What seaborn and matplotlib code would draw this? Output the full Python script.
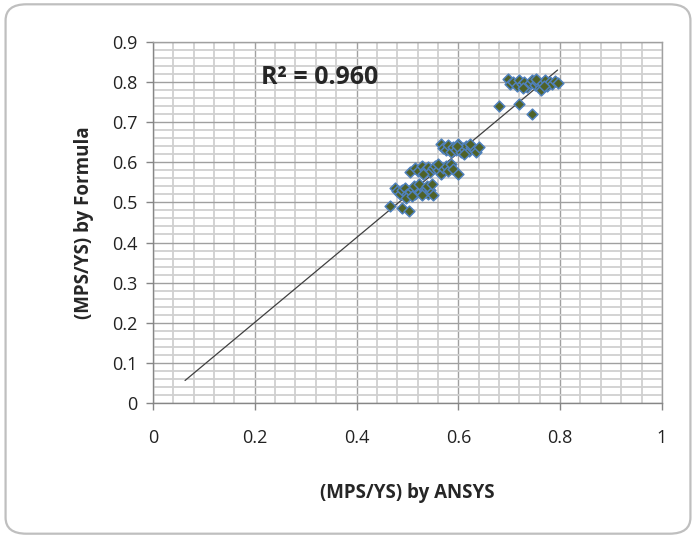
import numpy as np
import pandas as pd
import seaborn as sns
import matplotlib.pyplot as plt
from matplotlib.patches import FancyBboxPatch
from matplotlib.ticker import MultipleLocator

# data
ansys = [0.465, 0.490, 0.503,
         0.475, 0.480, 0.485, 0.490, 0.495, 0.500, 0.505, 0.510, 0.515, 0.520, 0.525,
         0.530, 0.535, 0.540, 0.545, 0.550, 0.512, 0.522, 0.498, 0.508, 0.528, 0.538, 0.548,
         0.505, 0.515, 0.520, 0.528, 0.535, 0.540, 0.545, 0.550, 0.555, 0.560, 0.565,
         0.570, 0.575, 0.580, 0.585, 0.590, 0.600, 0.530, 0.560,
         0.565, 0.570, 0.575, 0.580, 0.585, 0.590, 0.595, 0.600, 0.605, 0.610, 0.615,
         0.620, 0.625, 0.630, 0.635, 0.640, 0.612, 0.598, 0.622,
         0.680, 0.720, 0.744,
         0.698, 0.702, 0.708, 0.715, 0.720, 0.725, 0.730, 0.735, 0.740, 0.745, 0.750,
         0.755, 0.760, 0.765, 0.770, 0.775, 0.780, 0.785, 0.790, 0.795, 0.762, 0.752,
         0.728, 0.768]
formula = [0.490, 0.487, 0.478,
           0.535, 0.528, 0.522, 0.530, 0.535, 0.520, 0.527, 0.533, 0.520, 0.530, 0.525,
           0.535, 0.528, 0.522, 0.530, 0.518, 0.540, 0.545, 0.512, 0.515, 0.518, 0.540, 0.545,
           0.575, 0.585, 0.578, 0.590, 0.580, 0.588, 0.575, 0.585, 0.592, 0.580, 0.570,
           0.585, 0.590, 0.578, 0.595, 0.583, 0.570, 0.570, 0.595,
           0.645, 0.635, 0.630, 0.642, 0.625, 0.638, 0.630, 0.645, 0.625, 0.635, 0.640,
           0.628, 0.638, 0.632, 0.625, 0.637, 0.620, 0.640, 0.645,
           0.740, 0.745, 0.720,
           0.808, 0.795, 0.800, 0.790, 0.805, 0.795, 0.800, 0.788, 0.798, 0.805, 0.792,
           0.800, 0.785, 0.798, 0.805, 0.790, 0.800, 0.795, 0.802, 0.798, 0.780, 0.808,
           0.785, 0.790]

trend_x = [0.063, 0.795]
trend_y = [0.056, 0.830]
r2_label = "R² = 0.960"
xtick_vals = [0, 0.2, 0.4, 0.6, 0.8, 1.0]
xtick_labels = ['0', '0.2', '0.4', '0.6', '0.8', '1']
ytick_vals = [0, 0.1, 0.2, 0.3, 0.4, 0.5, 0.6, 0.7, 0.8, 0.9]
ytick_labels = ['0', '0.1', '0.2', '0.3', '0.4', '0.5', '0.6', '0.7', '0.8', '0.9']

df = pd.DataFrame({"ansys": ansys, "formula": formula})

sns.set_style("white")
plt.rcParams['font.family'] = ['Open Sans', 'DejaVu Sans']

fig = plt.figure(figsize=(6.96, 5.38), dpi=100)
ax = fig.add_axes([0.2198, 0.251, 0.7312, 0.671])

# outer rounded frame
frame = FancyBboxPatch((0.008, 0.008), 0.984, 0.984, boxstyle="round,pad=0,rounding_size=0.03",
                       transform=fig.transFigure, fill=False, edgecolor='#bfbfbf', linewidth=1.6)
fig.patches.append(frame)

sns.lineplot(x=trend_x, y=trend_y, ax=ax, color='#404040', linewidth=0.9, zorder=2)
sns.scatterplot(data=df, x="ansys", y="formula", ax=ax, marker='D', s=30,
                color='#4f6228', edgecolor='#4f81bd', linewidth=1.1, zorder=3)

ax.set_xlim(0, 1)
ax.set_ylim(0, 0.9)
ax.set_xticks(xtick_vals)
ax.set_xticklabels(xtick_labels)
ax.set_yticks(ytick_vals)
ax.set_yticklabels(ytick_labels)
ax.xaxis.set_minor_locator(MultipleLocator(0.04))
ax.yaxis.set_minor_locator(MultipleLocator(0.02))
ax.grid(which='minor', color='#d0d0d0', linewidth=1.3)
ax.grid(which='major', color='#a0a0a0', linewidth=1.0)
ax.set_axisbelow(True)

for s in ax.spines.values():
    s.set_color('#a0a0a0')
    s.set_linewidth(1.0)
ax.spines['left'].set_color('#868686')
ax.spines['bottom'].set_color('#868686')

ax.tick_params(which='major', direction='out', length=5, width=1, color='#868686',
               labelsize=13, labelcolor='#222222', bottom=True, left=True, pad=6)
ax.tick_params(which='minor', length=0)
ax.tick_params(axis='x', pad=14)

ax.text(0.212, 0.812, r2_label, fontsize=18, fontweight='bold', va='center', ha='left')

ax.set_xlabel("(MPS/YS) by ANSYS", fontsize=13.5, fontweight='bold', labelpad=26)
ax.set_ylabel("(MPS/YS) by Formula", fontsize=13.5, fontweight='bold', labelpad=13)

fig.savefig("out.png", dpi=100)
